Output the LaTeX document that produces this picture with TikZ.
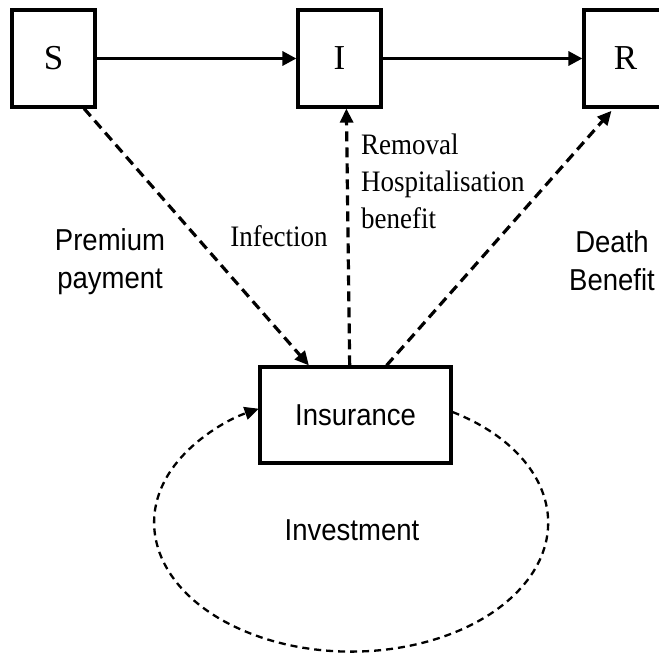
\documentclass[tikz,border=0pt]{standalone}
\usepackage{graphicx}
\usepackage{fontspec}
\setmainfont{Liberation Serif}
\setsansfont{Liberation Sans}
\usetikzlibrary{arrows.meta,calc}
\newcommand{\vstretch}[1]{\scalebox{1}[1.1]{#1}}
\begin{document}
\begin{tikzpicture}[x=1pt,y=-1pt,
  box/.style={draw,line width=3.2pt,inner sep=0pt,minimum width=83pt,minimum height=97pt,font=\fontsize{35}{35}\selectfont},
  insbox/.style={draw,line width=3.2pt,inner sep=0pt,minimum width=191pt,minimum height=96pt,font=\sffamily\fontsize{27.5}{27.5}\selectfont},
  solidarrow/.style={line width=3.2pt,-{Triangle[length=14pt,width=14pt]}},
  dasharrow/.style={line width=3.2pt,dash pattern=on 10pt off 6pt,-{Triangle[length=14pt,width=13pt]}},
  looparrow/.style={line width=2.3pt,dash pattern=on 7pt off 5pt,-{Triangle[length=14pt,width=13pt]}},
  sanslabel/.style={font=\sffamily\fontsize{27.5}{38}\selectfont,align=center,inner sep=0pt},
  seriflabel/.style={font=\fontsize{27}{37}\selectfont,inner sep=0pt}
]
\useasboundingbox (0,0) rectangle (659,656);
\clip (0,0) rectangle (659,656);

\node[box] (S) at (53.5,58.5) {S};
\node[box] (I) at (339.5,58.5) {I};
\node[box] (R) at (625.5,58.5) {R};
\node[insbox] (ins) at (355.5,415) {\vstretch{Insurance}};

\draw[solidarrow] (S.east) -- (I.west);
\draw[solidarrow] (I.east) -- (R.west);

\draw[dasharrow] ($(S.south west)!0.855!(S.south east)$) -- ($(ins.north west)!0.26!(ins.north east)$);
\draw[dasharrow] ($(ins.north west)!0.47!(ins.north east)$) -- ($(I.south west)!0.58!(I.south east)$);
\draw[dasharrow,shorten >=3pt] ($(ins.north west)!0.66!(ins.north east)$) -- ($(R.south west)!0.36!(R.south east)$);

\coordinate (loopstart) at ($(ins.north east)!0.47!(ins.south east)$);
\draw[looparrow] (loopstart) arc[start angle=-59,end angle=242,x radius=197,y radius=129];

\node[sanslabel] (prem) at (110,262) {\vstretch{Premium}\\\vstretch{payment}};
\node[seriflabel] (inf) at (279,236) {\vstretch{Infection}};
\node[seriflabel,align=left,anchor=west] (rem) at (361,181) {\vstretch{Removal}\\\vstretch{Hospitalisation}\\\vstretch{benefit}};
\node[sanslabel] (death) at (612,261) {\vstretch{Death}\\\vstretch{Benefit}};
\node[sanslabel] (inv) at (352,530) {\vstretch{Investment}};
\end{tikzpicture}
\end{document}
